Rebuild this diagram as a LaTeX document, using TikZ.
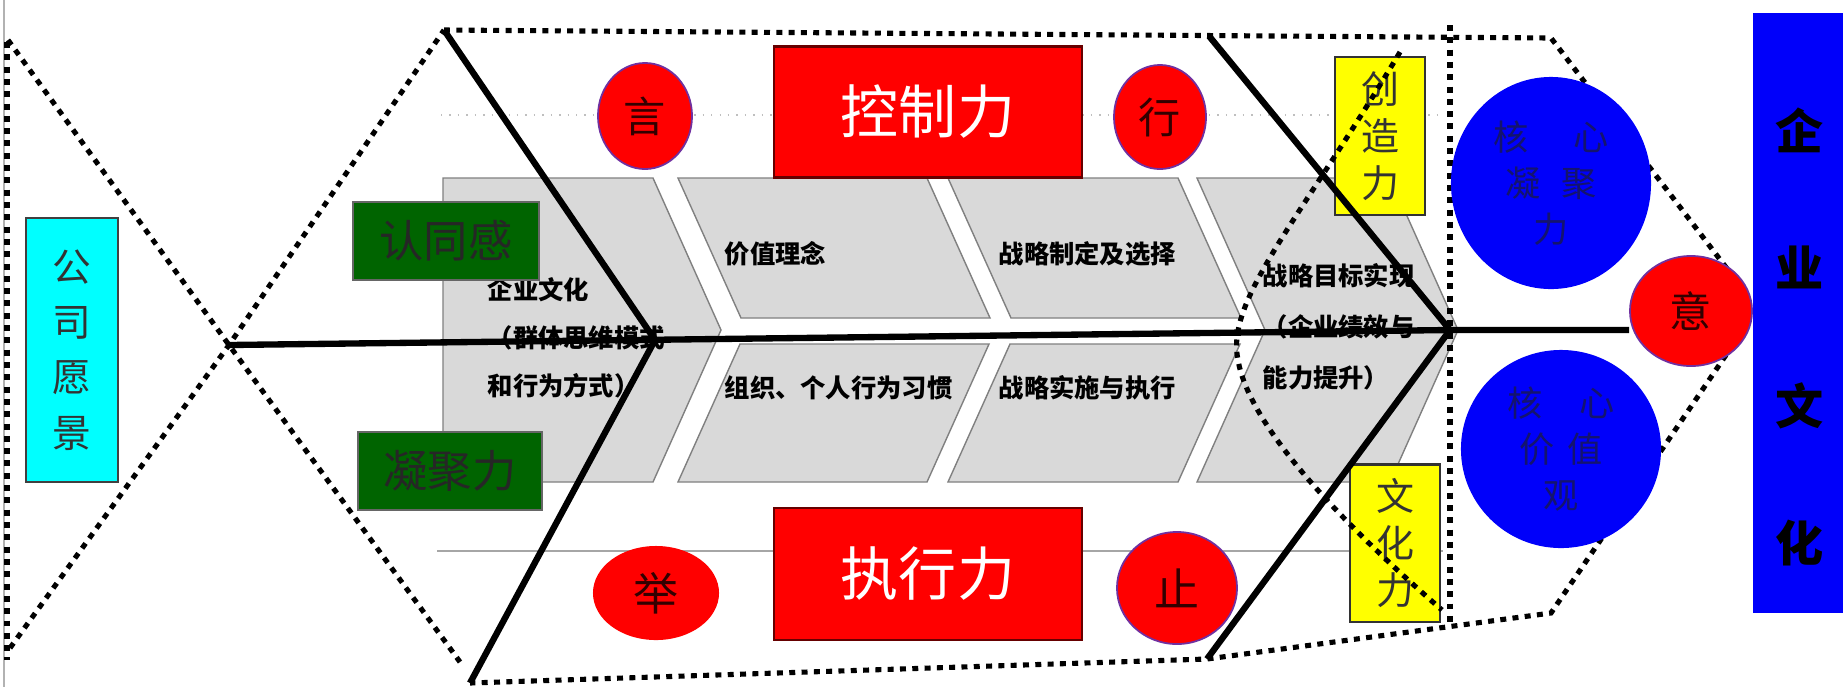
\documentclass[tikz,border=0pt]{standalone}
\usepackage{fontspec}
\setmainfont{Noto Sans CJK SC}
\usepackage{tikz}
\usetikzlibrary{shapes.geometric,calc}

\definecolor{vert}{RGB}{0,100,0}
\definecolor{cyanbox}{RGB}{0,255,255}
\definecolor{jaune}{RGB}{255,255,0}
\definecolor{bleu}{RGB}{0,0,250}
\definecolor{rouge}{RGB}{255,0,0}
\definecolor{violet}{RGB}{112,48,160}
\definecolor{grisfond}{RGB}{217,217,217}
\definecolor{bleunuit}{RGB}{20,20,110}

\begin{document}
\begin{tikzpicture}[x=0.01cm, y=-0.01cm,
  pointille/.style={line width=1.45pt, dash pattern=on 1.7pt off 1.8pt},
  arete/.style={line width=1.8pt},
  chevron/.style={fill=grisfond, draw=gray, line width=0.4pt},
  etape/.style={anchor=west, align=left, inner sep=0pt, font=\bfseries\fontsize{7.2}{13.7}\selectfont},
  rond/.style={ellipse, fill=rouge, draw=violet, line width=0.5pt, inner sep=0pt, text=red!20!black, font=\fontsize{12}{13}\selectfont},
  boite/.style={rectangle, inner sep=0pt, align=center},
  noyau/.style={ellipse, fill=bleu, inner sep=0pt, align=center, text=bleunuit, font=\fontsize{10}{13}\selectfont}]
\fill[white] (0,0) rectangle (1845,687);
\useasboundingbox (0,0) rectangle (1845,687);
% Cadre et lignes de fond
\draw[gray!60, line width=0.6pt] (4,0) -- (4,687);
\draw[gray!50, dotted, line width=0.4pt] (441,115) -- (1443,115);
\draw[gray!70, line width=0.5pt] (437,551) -- (1443,551);
% Chevrons gris
\draw[chevron] (443,178) -- (653,178) -- (721,330) -- (653,482) -- (443,482) -- cycle;
\draw[chevron] (678,178) -- (927,178) -- (990,318) -- (741,318) -- cycle;
\draw[chevron] (740,344) -- (989,344) -- (927,482) -- (678,482) -- cycle;
\draw[chevron] (948,178) -- (1178,178) -- (1241,318) -- (1011,318) -- cycle;
\draw[chevron] (1010,344) -- (1240,344) -- (1178,482) -- (948,482) -- cycle;
\draw[chevron] (1197,178) -- (1390,178) -- (1458,330) -- (1390,482) -- (1197,482) -- (1265,330) -- cycle;
% Textes des etapes
\node[etape] (culture1) at (487,338) {企业文化\\（群体思维模式\\和行为方式）};
\node[etape] (valeur) at (724,254) {价值理念};
\node[etape] (habitude) at (724,388) {组织、个人行为习惯};
\node[etape] (choix) at (998,254) {战略制定及选择};
\node[etape] (action) at (998,388) {战略实施与执行};
\node[etape, font=\bfseries\fontsize{7.2}{14.5}\selectfont] (but) at (1262,327) {战略目标实现\\（企业绩效与\\能力提升）};
% Points de la queue et de la tete
\coordinate (queue) at (229,345);
\coordinate (hg) at (444,30);
\coordinate (bg) at (470,683);
\coordinate (hd) at (1209,36);
\coordinate (bd) at (1207,659);
\coordinate (nl) at (655,340);
\coordinate (tete) at (1450,330);
% Contour pointille
\draw[pointille] (7,42) -- (7,660);
\draw[pointille] (8,40) -- (queue) -- (460,662);
\draw[pointille] (10,648) -- (queue) -- (hg);
\draw[pointille] (hg) -- (1551,38) -- (1728,270);
\draw[pointille] (1726,355) -- (1551,613) -- (bd) -- (bg);
\draw[pointille] (1450,25) -- (1450,628);
% Boites
\node[boite, fill=cyanbox, draw=black!75, line width=0.6pt, minimum width=0.92cm, minimum height=2.63cm,
  text=black!80, font=\fontsize{11}{15.7}\selectfont] (vision) at (72,350) {公\\司\\愿\\景};
\node[boite, fill=vert, draw=black!60, line width=0.6pt, minimum width=1.86cm, minimum height=0.78cm,
  text=black!85, font=\fontsize{12.6}{14}\selectfont] (ident) at (446,241) {认同感};
\node[boite, fill=vert, draw=black!60, line width=0.6pt, minimum width=1.84cm, minimum height=0.78cm,
  text=black!85, font=\fontsize{12.6}{14}\selectfont] (cohes) at (450,471) {凝聚力};
\node[boite, fill=rouge, draw=red!40!black, line width=0.6pt, minimum width=3.08cm, minimum height=1.31cm,
  text=white, font=\fontsize{16.5}{18}\selectfont] (ctrl) at (928,112) {控制力};
\node[boite, fill=rouge, draw=red!40!black, line width=0.6pt, minimum width=3.08cm, minimum height=1.32cm,
  text=white, font=\fontsize{16.5}{18}\selectfont] (exec) at (928,574) {执行力};
\node[boite, fill=jaune, draw=black!80, line width=0.6pt, minimum width=0.90cm, minimum height=1.58cm,
  text=black!80, font=\fontsize{10.8}{13.4}\selectfont] (cree) at (1380,136) {创\\造\\力};
\node[boite, fill=jaune, draw=black!80, line width=0.6pt, minimum width=0.90cm, minimum height=1.57cm,
  text=black!80, font=\fontsize{10.8}{13.4}\selectfont] (cult) at (1395,543) {文\\化\\力};
% Cercles rouges
\node[rond, minimum width=0.94cm, minimum height=1.06cm] (yan) at (645,116) {言};
\node[rond, minimum width=0.92cm, minimum height=1.04cm] (xing) at (1160,117) {行};
\node[rond, draw=none, minimum width=1.26cm, minimum height=0.94cm, font=\fontsize{12.8}{14}\selectfont] (ju) at (656,593) {举};
\node[rond, minimum width=1.20cm, minimum height=1.12cm, font=\fontsize{12.8}{14}\selectfont] (zhi) at (1177,588) {止};
\node[rond, minimum width=1.22cm, minimum height=1.10cm] (yi) at (1691,311) {意};
% Cercles bleus
\node[noyau, minimum width=2.00cm, minimum height=2.12cm] (noyau1) at (1551,183) {核\hspace{0.45cm}心\\凝\hspace{0.2cm}聚\\力};
\node[noyau, minimum width=2.00cm, minimum height=1.98cm] (noyau2) at (1561,449) {核\hspace{0.37cm}心\\价\hspace{0.13cm}值\\观};
% Culture d'entreprise
\node[boite, fill=bleu, minimum width=0.90cm, minimum height=6.00cm] (corp) at (1798,313) {};
\node[boite, font=\bfseries\fontsize{13.7}{39}\selectfont] (corptxt) at (1800,337) {企\\业\\文\\化};
% Aretes
\draw[arete] (queue) -- (tete) -- (tete -| yi.west);
\draw[arete] (hg) -- (nl) -- (bg);
\draw[arete] (hd) -- (tete) -- (bd);
% Arc pointille de la tete
\draw[pointille] (1400,52) .. controls (1300,220) and (1225,300) .. (1238,360)
  .. controls (1250,430) and (1350,530) .. (1442,610);
\end{tikzpicture}
\end{document}
